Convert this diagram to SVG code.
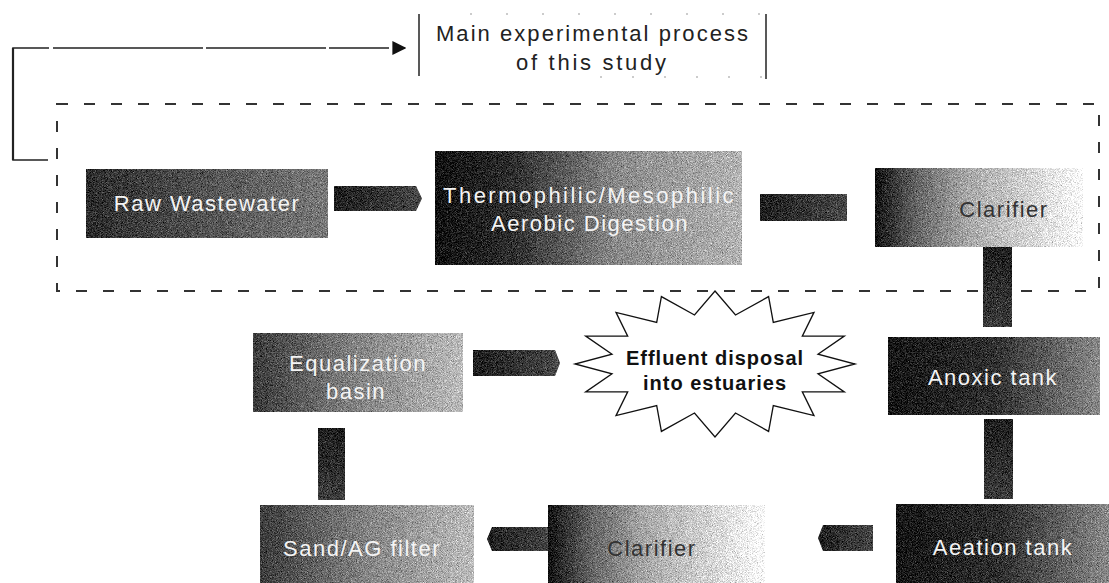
<svg xmlns="http://www.w3.org/2000/svg" width="1109" height="583" viewBox="0 0 1109 583">
  <style>
    .lbl { font-family: "Liberation Sans", Arial, sans-serif; font-size: 22px; fill: #f4f4f4; text-anchor: middle; letter-spacing: 1.5px; }
    .dark { fill: #333; }
    .title { font-family: "Liberation Sans", Arial, sans-serif; font-size: 22px; fill: #222; text-anchor: middle; }
    .star-txt { font-family: "Liberation Sans", Arial, sans-serif; font-size: 20px; font-weight: bold; fill: #111; text-anchor: middle; letter-spacing: 1px; }
    .box { filter: url(#grain); }
    .bar { filter: url(#grain); }
    .dash-frame { fill: none; stroke: #333; stroke-width: 2; stroke-dasharray: 11 16; }
  </style>
  <defs>
    <!-- halftone-like grain laid over the shaded blocks -->
    <filter id="grain" x="0" y="0" width="100%" height="100%" color-interpolation-filters="sRGB">
      <feTurbulence type="fractalNoise" baseFrequency="1.2" numOctaves="2" seed="7" result="noise"/>
      <feColorMatrix in="noise" type="matrix" values="0.33 0.33 0.33 0 0  0.33 0.33 0.33 0 0  0.33 0.33 0.33 0 0  0 0 0 0 1" result="gray"/>
      <feComposite in="gray" in2="SourceGraphic" operator="arithmetic" k1="0" k2="1.3" k3="1" k4="-0.65" result="mix"/>
      <feComposite in="mix" in2="SourceAlpha" operator="in"/>
    </filter>
    <linearGradient id="gRaw" x1="0" x2="1" y1="0" y2="0">
      <stop offset="0" stop-color="#2c2c2c"/>
      <stop offset="0.5" stop-color="#555"/>
      <stop offset="1" stop-color="#7a7a7a"/>
    </linearGradient>
    <linearGradient id="gThermo" x1="0" x2="1" y1="0" y2="0">
      <stop offset="0" stop-color="#111"/>
      <stop offset="0.25" stop-color="#2e2e2e"/>
      <stop offset="0.6" stop-color="#8c8c8c"/>
      <stop offset="1" stop-color="#b5b5b5"/>
    </linearGradient>
    <linearGradient id="gClar" x1="0" x2="1" y1="0" y2="0">
      <stop offset="0" stop-color="#111"/>
      <stop offset="0.2" stop-color="#666"/>
      <stop offset="0.45" stop-color="#aaa"/>
      <stop offset="0.75" stop-color="#d6d6d6"/>
      <stop offset="1" stop-color="#fff"/>
    </linearGradient>
    <linearGradient id="gTank" x1="0" x2="1" y1="0" y2="0">
      <stop offset="0" stop-color="#161616"/>
      <stop offset="0.5" stop-color="#303030"/>
      <stop offset="1" stop-color="#8a8a8a"/>
    </linearGradient>
    <linearGradient id="gLight" x1="0" x2="1" y1="0" y2="0">
      <stop offset="0" stop-color="#3c3c3c"/>
      <stop offset="0.5" stop-color="#858585"/>
      <stop offset="1" stop-color="#bdbdbd"/>
    </linearGradient>
    <linearGradient id="gBar" x1="0" x2="1" y1="0" y2="0">
      <stop offset="0" stop-color="#1e1e1e"/>
      <stop offset="1" stop-color="#4a4a4a"/>
    </linearGradient>
    <linearGradient id="gBarV" x1="0" x2="0" y1="0" y2="1">
      <stop offset="0" stop-color="#1e1e1e"/>
      <stop offset="1" stop-color="#3e3e3e"/>
    </linearGradient>
    <marker id="head" viewBox="0 0 10 10" refX="9" refY="5" markerWidth="14" markerHeight="14" markerUnits="userSpaceOnUse" orient="auto">
      <path d="M0,0 L10,5 L0,10 Z" fill="#111"/>
    </marker>
  </defs>

  <rect width="1109" height="583" fill="#fff"/>

  <!-- title box -->
  <g id="title">
    <line x1="419" y1="14" x2="419" y2="76" stroke="#222" stroke-width="1.5"/>
    <line x1="766" y1="14" x2="766" y2="79" stroke="#222" stroke-width="1.5"/>
    <line x1="470" y1="14" x2="766" y2="14" stroke="#999" stroke-width="1.2" stroke-dasharray="2 34"/>
    <line x1="600" y1="77" x2="766" y2="77" stroke="#999" stroke-width="1.2" stroke-dasharray="2 30"/>
    <text class="title" x="592" y="41" textLength="312" lengthAdjust="spacing">Main experimental process</text>
    <text class="title" x="591" y="70" textLength="150" lengthAdjust="spacing">of this study</text>
  </g>

  <!-- dashed frame around the main process -->
  <rect id="study-frame" class="dash-frame" x="57" y="104" width="1042" height="187"/>

  <g id="connectors">
    <!-- pointer from the frame to the title -->
    <polyline points="48,160 13,160 13,48 405,48" fill="none" stroke="#222" stroke-width="1.6" stroke-dasharray="120 3 60 4 150 3" marker-end="url(#head)"/>
    <line x1="13" y1="48" x2="13" y2="160" stroke="#222" stroke-width="2.2"/>
    <!-- flow bars -->
    <path class="bar" d="M334,186 H416 L422,198.5 L416,211 H334 Z" fill="url(#gBar)"/>
    <path class="bar" d="M760,194 H847 V221 H760 Z" fill="url(#gBar)"/>
    <rect class="bar" x="983" y="247" width="29" height="80" fill="url(#gBarV)"/>
    <rect class="bar" x="984" y="419" width="29" height="80" fill="url(#gBarV)"/>
    <path class="bar" d="M873,525 H823 L818,538 L823,551 H873 Z" fill="url(#gBar)"/>
    <path class="bar" d="M556,527 H492 L487,539 L492,551 H556 Z" fill="url(#gBar)"/>
    <rect class="bar" x="318" y="428" width="27" height="72" fill="url(#gBarV)"/>
    <path class="bar" d="M473,350 H555 L560,363 L555,376 H473 Z" fill="url(#gBar)"/>
  </g>

  <g id="raw-wastewater">
    <rect class="box" x="86" y="169" width="242" height="69" fill="url(#gRaw)"/>
    <text class="lbl" x="207" y="211">Raw Wastewater</text>
  </g>

  <g id="aerobic-digestion">
    <rect class="box" x="435" y="151" width="307" height="114" fill="url(#gThermo)"/>
    <text class="lbl" x="589" y="203" textLength="292" lengthAdjust="spacing">Thermophilic/Mesophilic</text>
    <text class="lbl" x="590" y="231">Aerobic Digestion</text>
  </g>

  <g id="clarifier-1">
    <rect class="box" x="875" y="168" width="208" height="79" fill="url(#gClar)"/>
    <text class="lbl dark" x="1004" y="217">Clarifier</text>
  </g>

  <g id="anoxic-tank">
    <rect class="box" x="888" y="337" width="212" height="78" fill="url(#gTank)"/>
    <text class="lbl" x="993" y="385">Anoxic tank</text>
  </g>

  <g id="aeration-tank">
    <rect class="box" x="896" y="504" width="213" height="79" fill="url(#gTank)"/>
    <text class="lbl" x="1003" y="555">Aeation tank</text>
  </g>

  <g id="clarifier-2">
    <rect class="box" x="548" y="505" width="217" height="78" fill="url(#gClar)"/>
    <text class="lbl dark" x="652" y="556">Clarifier</text>
  </g>

  <g id="sand-filter">
    <rect class="box" x="260" y="505" width="214" height="78" fill="url(#gLight)"/>
    <text class="lbl" x="362" y="556">Sand/AG filter</text>
  </g>

  <g id="equalization-basin">
    <rect class="box" x="253" y="333" width="210" height="79" fill="url(#gLight)"/>
    <text class="lbl" x="358" y="371">Equalization</text>
    <text class="lbl" x="356" y="399">basin</text>
  </g>

  <g id="effluent-disposal">
    <polygon fill="#fff" stroke="#111" stroke-width="1.3" stroke-linejoin="miter"
      points="715,291 735.5,315 768.6,296.6 773.3,322.4 814,312.4 802.3,336.2 844.3,336.1 818,354.2 855,364 818,373.8 844.3,391.9 802.3,391.8 814,415.6 773.3,405.6 768.6,431.4 735.5,413 715,437 694.5,413 661.4,431.4 656.7,405.6 616,415.6 627.7,391.8 585.7,391.9 612,373.8 575,364 612,354.2 585.7,336.1 627.7,336.2 616,312.4 656.7,322.4 661.4,296.6 694.5,315"/>
    <text class="star-txt" x="715" y="365">Effluent disposal</text>
    <text class="star-txt" x="715" y="390">into estuaries</text>
  </g>
</svg>
